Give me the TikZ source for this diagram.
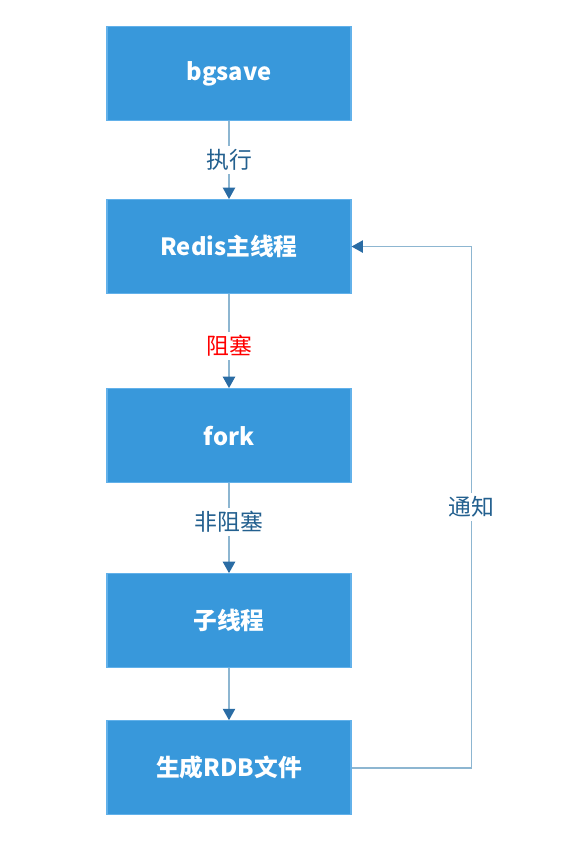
\documentclass[tikz,border=0pt]{standalone}
\usepackage{fontspec}
\setmainfont{Noto Sans CJK SC}
\usepackage{tikz}
\usetikzlibrary{arrows.meta,positioning}

\definecolor{boxblue}{HTML}{3898DB}
\definecolor{boxedge}{HTML}{62B1EA}
\definecolor{flowline}{HTML}{8DB6D1}
\definecolor{tipblue}{HTML}{2A6CA4}
\definecolor{labelblue}{HTML}{23608F}

\tikzset{
  stagebox/.style={rectangle,fill=boxblue,draw=boxedge,line width=0.6pt,
    minimum width=4.88cm,minimum height=1.88cm,text=white,
    font=\fontsize{13.5}{16}\selectfont\bfseries},
  flow/.style={draw=flowline,line width=0.9pt,
    -{Triangle[width=7pt,length=6.5pt,color=tipblue]}},
  flowlabel/.style={fill=white,text=labelblue,inner sep=2pt,
    font=\fontsize{13}{15}\selectfont}
}

\begin{document}
\begin{tikzpicture}
	\useasboundingbox (0,0) rectangle (11.24,-16.96);
	\node[stagebox] (bgsave) at (4.58,-1.47) {bgsave};
	\node[stagebox,below=1.56cm of bgsave] (redis) {Redis主线程};
	\node[stagebox,below=1.88cm of redis] (fork) {fork};
	\node[stagebox,below=1.80cm of fork] (child) {子线程};
	\node[stagebox,below=1.04cm of child] (rdb) {生成RDB文件};
	\draw[flow] (bgsave) -- (redis) node[flowlabel,midway] {执行};
	\draw[flow] (redis) -- (fork) node[flowlabel,pos=0.55,text=red] {阻塞};
	\draw[flow] (fork) -- (child) node[flowlabel,pos=0.43] {非阻塞};
	\draw[flow] (child) -- (rdb);
	\draw[flow] (rdb.east) -- ++(2.4,0) |- (redis.east) node[flowlabel,pos=0.25] {通知};
\end{tikzpicture}
\end{document}
